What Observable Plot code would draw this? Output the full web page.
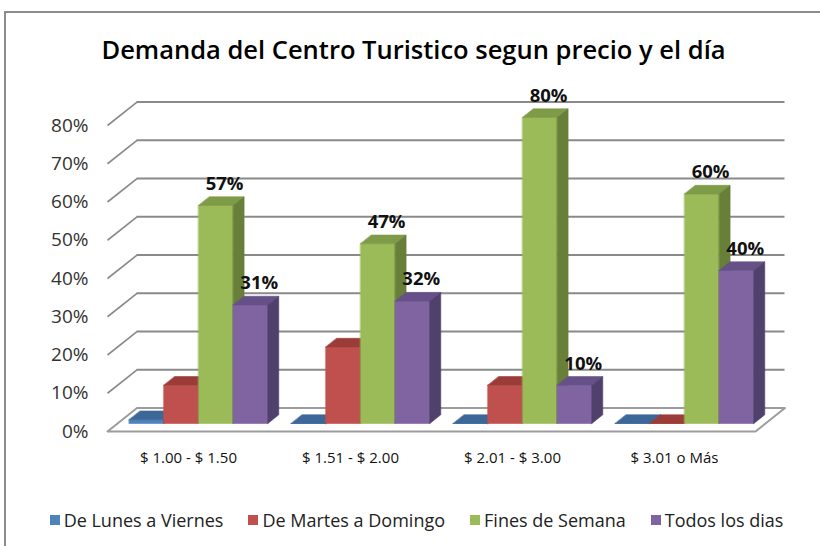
<!DOCTYPE html>
<html>
<head>
<meta charset="utf-8">
<script src="https://cdn.jsdelivr.net/npm/d3@7"></script>
<script src="https://cdn.jsdelivr.net/npm/@observablehq/plot@0.6"></script>
<style>
  body { margin: 0; background: #fff; }
  #wrap { position: relative; width: 820px; height: 546px; overflow: hidden; font-family: "Open Sans", sans-serif; }
  #frame { position: absolute; left: 4px; top: 11px; width: 900px; height: 700px; border: 2px solid #8c8c8c; box-sizing: border-box; }
  #title { position: absolute; top: 32px; left: 0; width: 827px; text-align: center; font-size: 25.5px; font-weight: 600; color: #000; white-space: nowrap; }
  #chart { position: absolute; top: 80px; left: 0; }
  #legend { position: absolute; top: 508px; left: 0; width: 833px; display: flex; justify-content: center; gap: 25px; font-size: 18px; color: #222; white-space: nowrap; }
  #legend .item { display: flex; align-items: center; gap: 4px; }
  #legend .sw { width: 10px; height: 10px; display: inline-block; }
</style>
</head>
<body>
<div id="wrap">
  <div id="frame"></div>
  <div id="title">Demanda del Centro Turistico segun precio y el día</div>
  <div id="chart"></div>
  <div id="legend"></div>
</div>
<script>
// ---- data ----
const categories = ["$ 1.00 - $ 1.50", "$ 1.51 - $ 2.00", "$ 2.01 - $ 3.00", "$ 3.01 o Más"];
const seriesNames = ["De Lunes a Viernes", "De Martes a Domingo", "Fines de Semana", "Todos los dias"];
const lunesViernes = [1, 0, 0, 0];
const martesDomingo = [10, 20, 10, 0];
const finesSemana = [57, 47, 80, 60];
const todosDias = [31, 32, 10, 40];
const yTicks = [0, 10, 20, 30, 40, 50, 60, 70, 80];
const labeledSeries = [2, 3];

// ---- styles ----
const frontColors = ["#4F81BD", "#C0504D", "#9BBB59", "#8064A2"];
const topColors   = ["#3D6797", "#9C3C39", "#7E9B47", "#665088"];
const sideColors  = ["#2F5585", "#80302E", "#687F39", "#50406C"];

const values = [lunesViernes, martesDomingo, finesSemana, todosDias];

// 3D geometry (depth of the floor in data units, bar placement)
const DX = 0.182, DY = 6.14;   // full depth offset (x in category units, y in %)
const F0 = 0.34, BD = 0.37;    // bar front plane and bar depth, fraction of depth
const GAP = 0.072, W = 0.214;  // gap at group edge and bar width, category units

const polys = [];
let pid = 0;
function addPoly(pts, fill) {
  const id = pid++;
  for (const [x, y] of pts) polys.push({id, x, y, fill});
}
const labels = [];
categories.forEach((cat, c) => {
  values.forEach((vals, s) => {
    const v = vals[c];
    const x1 = c + GAP + s * W + F0 * DX, x2 = x1 + W;
    const y1 = F0 * DY, y2 = v + F0 * DY;
    const ox = BD * DX, oy = BD * DY;
    addPoly([[x1, y1], [x2, y1], [x2, y2], [x1, y2]], frontColors[s]);
    addPoly([[x1, y2], [x2, y2], [x2 + ox, y2 + oy], [x1 + ox, y2 + oy]], topColors[s]);
    addPoly([[x2, y1], [x2 + ox, y1 + oy], [x2 + ox, y2 + oy], [x2, y2]], sideColors[s]);
    if (labeledSeries.includes(s)) {
      labels.push({x: (x1 + x2) / 2 + ox * 0.8, y: y2 + oy, text: v + "%"});
    }
  });
});

const n = categories.length;
const floor = [
  {x: 0, y: 0}, {x: n, y: 0}, {x: n + DX, y: DY}, {x: DX, y: DY}
];
const gridTicks = yTicks.filter(d => d > 0);
const gridColor = "#8a8a8a";

const chart = Plot.plot({
  width: 820,
  height: 410,
  marginLeft: 107,
  marginRight: 65,
  marginTop: 45,
  marginBottom: 59,
  x: {domain: [0, n], axis: null},
  y: {domain: [0, 80], axis: null},
  color: {type: "identity"},
  style: {fontFamily: "'Open Sans', sans-serif", background: "transparent", overflow: "visible"},
  marks: [
    // floor
    Plot.line(floor, {x: "x", y: "y", curve: "linear-closed", fill: "#fff", stroke: "#9c9c9c", strokeWidth: 2}),
    // back wall gridlines
    Plot.ruleY(gridTicks, {y: d => d + DY, x1: DX, x2: n + DX, stroke: gridColor, strokeWidth: 1.8, strokeOpacity: 1}),
    // left side connectors
    Plot.link(gridTicks, {x1: 0, y1: d => d, x2: DX, y2: d => d + DY, stroke: gridColor, strokeWidth: 1.6}),
    // bars (front, top, side faces)
    Plot.line(polys, {x: "x", y: "y", z: "id", fill: "fill", stroke: "fill", strokeWidth: 0.6, curve: "linear-closed"}),
    // value labels
    Plot.text(labels, {x: "x", y: "y", text: "text", dy: -7, lineAnchor: "bottom", fontSize: 18.5, fontWeight: "bold", fill: "#111"}),
    // axes
    Plot.axisY(yTicks, {anchor: "left", tickSize: 0, tickPadding: 19, tickFormat: d => d + "%", fontSize: 19, fill: "#333", label: null}),
    Plot.axisX(categories.map((_, i) => i + 0.5), {anchor: "bottom", tickSize: 0, tickPadding: 21, tickFormat: d => categories[Math.floor(d)], fontSize: 15, fontWeight: 500, fill: "#111", label: null})
  ]
});
document.getElementById("chart").appendChild(chart);

const legend = document.getElementById("legend");
seriesNames.forEach((name, i) => {
  const item = document.createElement("div");
  item.className = "item";
  const sw = document.createElement("span");
  sw.className = "sw";
  sw.style.background = frontColors[i];
  const t = document.createElement("span");
  t.textContent = name;
  item.appendChild(sw);
  item.appendChild(t);
  legend.appendChild(item);
});
</script>
</body>
</html>
